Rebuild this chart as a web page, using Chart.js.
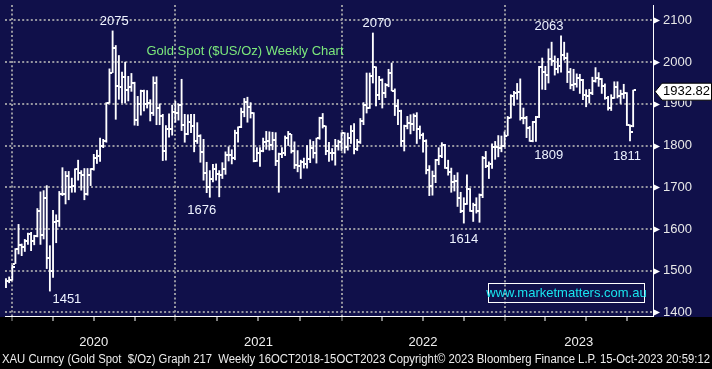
<!DOCTYPE html>
<html>
<head>
<meta charset="utf-8">
<script src="https://cdn.jsdelivr.net/npm/chart.js@4.4.0/dist/chart.umd.min.js"></script>
<style>
html,body{margin:0;padding:0;background:#000;}
#wrap{width:712px;height:369px;position:relative;}
canvas{display:block;}
</style>
</head>
<body>
<div id="wrap"><canvas id="c" width="712" height="369"></canvas></div>
<script>
// ---------- DATA (weekly XAU spot, weeks ending Fridays from 13-Dec-2019) ----------
const firstWeekEnding = Date.UTC(2019, 11, 13);

const opens = [
1464,1476,1478,1517,1552,1562,1557,1571,1589,1570,
1584,1643,1585,1674,1530,1499,1617,1620,1683,1683,
1728,1700,1702,1744,1735,1730,1685,1730,1743,1771,
1775,1799,1810,1902,1975,2035,1944,1940,1964,1934,
1940,1950,1862,1900,1930,1899,1902,1879,1951,1889,
1871,1788,1839,1840,1881,1878,1898,1850,1827,1856,
1848,1812,1823,1784,1734,1700,1719,1745,1732,1729,
1744,1777,1777,1769,1831,1844,1881,1905,1892,1877,
1764,1781,1787,1808,1812,1802,1814,1763,1780,1781,
1818,1827,1788,1754,1750,1761,1757,1768,1793,1783,
1818,1865,1846,1788,1783,1782,1798,1808,1829,1797,
1818,1835,1791,1808,1859,1898,1889,1966,1989,1921,
1958,1925,1946,1974,1932,1896,1883,1811,1846,1853,
1851,1871,1839,1826,1811,1742,1703,1727,1766,1775,
1802,1747,1737,1712,1716,1675,1644,1661,1695,1644,
1657,1644,1681,1771,1751,1755,1797,1797,1793,1798,
1824,1866,1920,1926,1928,1865,1865,1842,1811,1856,
1868,1989,1977,1969,2008,2004,1983,1990,2017,2011,
1977,1946,1948,1961,1958,1921,1919,1925,1955,1962,
1959,1943,1914,1889,1915,1940,1919,1924,1925,1849,
1846];

const highs = [
1481,1485,1513,1553,1611,1564,1575,1590,1592,1585,
1649,1689,1692,1704,1560,1645,1634,1690,1747,1738,
1738,1722,1744,1765,1740,1745,1745,1745,1779,1789,
1818,1815,1903,1984,2075,2040,2016,1976,2000,1966,
1973,1952,1918,1933,1933,1932,1910,1965,1965,1900,
1875,1848,1876,1897,1906,1900,1959,1875,1874,1875,
1875,1855,1826,1815,1760,1740,1755,1756,1740,1759,
1785,1797,1790,1837,1845,1890,1913,1916,1903,1879,
1795,1795,1818,1834,1833,1832,1831,1782,1795,1823,
1834,1827,1809,1788,1765,1770,1800,1814,1810,1818,
1868,1877,1847,1808,1793,1815,1813,1831,1831,1830,
1848,1853,1815,1865,1903,1974,1974,2070,1989,1966,
1960,1949,1983,1998,1936,1910,1885,1849,1870,1874,
1876,1879,1847,1830,1814,1752,1739,1767,1795,1807,
1803,1765,1746,1729,1735,1688,1675,1730,1697,1662,
1675,1684,1774,1786,1761,1804,1810,1824,1823,1833,
1870,1922,1930,1949,1960,1890,1870,1846,1858,1870,
1990,2010,1990,2032,2048,2015,2009,2063,2048,2022,
1985,1983,1972,1971,1959,1934,1935,1964,1987,1975,
1961,1948,1918,1922,1953,1953,1933,1947,1927,1850,
1933];

const lows = [
1459,1471,1477,1517,1540,1536,1546,1563,1548,1562,
1581,1563,1576,1505,1451,1484,1567,1606,1680,1660,
1670,1688,1688,1717,1693,1670,1681,1704,1741,1757,
1762,1795,1808,1902,1975,1863,1911,1902,1902,1907,
1930,1849,1848,1873,1883,1890,1859,1872,1850,1850,
1764,1765,1820,1825,1856,1861,1836,1808,1826,1831,
1785,1805,1760,1717,1687,1676,1713,1717,1677,1721,
1731,1763,1756,1766,1808,1843,1869,1856,1866,1761,
1762,1750,1785,1791,1789,1790,1752,1688,1771,1776,
1800,1782,1745,1737,1721,1746,1746,1759,1770,1758,
1815,1842,1778,1762,1765,1753,1789,1788,1782,1789,
1805,1780,1788,1805,1850,1878,1889,1950,1895,1910,
1890,1915,1941,1931,1872,1850,1798,1787,1840,1828,
1836,1805,1816,1784,1732,1680,1681,1711,1754,1771,
1745,1729,1688,1691,1654,1639,1614,1659,1642,1618,
1638,1616,1675,1747,1721,1745,1767,1773,1785,1797,
1824,1866,1896,1911,1861,1852,1819,1810,1809,1810,
1867,1935,1934,1950,1992,1969,1974,1976,2005,1951,
1936,1932,1940,1925,1910,1893,1902,1922,1952,1942,
1925,1911,1885,1884,1913,1914,1901,1913,1848,1811,
1845];

const closes = [
1476,1478,1510,1552,1562,1557,1571,1589,1570,1584,
1643,1585,1674,1530,1499,1617,1620,1683,1683,1728,
1700,1702,1744,1735,1730,1685,1730,1743,1771,1775,
1799,1810,1902,1975,2035,1944,1940,1964,1934,1940,
1950,1862,1900,1930,1899,1902,1879,1951,1889,1871,
1788,1839,1840,1881,1878,1898,1850,1827,1856,1848,
1812,1823,1784,1734,1700,1719,1745,1732,1729,1744,
1777,1777,1769,1831,1844,1881,1905,1892,1877,1764,
1781,1787,1808,1812,1802,1814,1763,1780,1781,1818,
1827,1788,1754,1750,1761,1757,1768,1793,1783,1818,
1865,1846,1788,1783,1782,1798,1808,1829,1797,1818,
1835,1791,1808,1859,1898,1889,1966,1989,1921,1958,
1925,1946,1974,1932,1896,1883,1811,1846,1853,1851,
1871,1839,1826,1811,1742,1703,1727,1766,1775,1802,
1747,1737,1712,1716,1675,1644,1661,1695,1644,1657,
1644,1681,1771,1751,1755,1797,1797,1793,1798,1824,
1866,1920,1926,1928,1865,1865,1842,1811,1856,1868,
1989,1977,1969,2008,2004,1983,1990,2017,2011,1977,
1946,1948,1961,1958,1921,1919,1925,1955,1962,1959,
1943,1914,1889,1915,1940,1919,1924,1925,1849,1833,
1932.82];

const yearLabels = ['2020', '2021', '2022', '2023'];
const priceTicks = [1400, 1500, 1600, 1700, 1800, 1900, 2000, 2100];
const lastPrice = 1932.82;
const chartTitle = 'Gold Spot ($US/Oz) Weekly Chart';
const sourceLine = 'XAU Curncy (Gold Spot  $/Oz) Graph 217  Weekly 16OCT2018-15OCT2023 Copyright\u00A9 2023 Bloomberg Finance L.P. 15-Oct-2023 20:59:12';
const watermark = 'www.marketmatters.com.au';
// marked extremes: week index + which end of the bar
const extremeIdx  = [34, 14, 65, 117, 146, 177, 168, 199];
const extremeSide = ['high', 'low', 'low', 'high', 'low', 'high', 'low', 'low'];

// ---------- derived structures ----------
const N = opens.length;
const weekEnding = opens.map((_, i) => new Date(firstWeekEnding + i * 7 * 864e5));
const hiLo = opens.map((_, i) => ({x: i, y: [lows[i], highs[i]]}));
const openPts = opens.map((v, i) => ({x: i, y: v}));
const closePts = closes.map((v, i) => ({x: i, y: v}));

const X_MIN = -0.316, X_MAX = 206.33;
const Y_MIN = 1391.3, Y_MAX = 2137.1;

// year separators sit one bar before the first weekly bar of each year
const yearStarts = yearLabels.map(y => weekEnding.findIndex(d => d.getUTCFullYear() === +y) - 1);
const yearEnds = yearStarts.map((s, k) => k + 1 < yearStarts.length ? yearStarts[k + 1] : s + 365.25 / 7);
const yearStartSet = new Set(yearStarts);
const quarterTicks = [];
yearStarts.forEach((s, k) => {
  for (let q = 0; q < 4; q++) {
    const v = s + q * (yearEnds[k] - s) / 4;
    if (v <= X_MAX) quarterTicks.push(v);
  }
});
const yearLabelAt = new Map();
yearStarts.forEach((s, k) => yearLabelAt.set((s + Math.min(yearEnds[k], X_MAX)) / 2, yearLabels[k]));
const yearAxisTicks = [...yearStarts, ...yearLabelAt.keys()].sort((a, b) => a - b);
const priceAxisTicks = [];
for (let v = priceTicks[0]; v <= priceTicks[priceTicks.length - 1]; v += 50) priceAxisTicks.push(v);

// ---------- styles ----------
const NAVY = '#10104a';
const GRID = '#9696a0';
const FONT = "'Liberation Sans', Arial, sans-serif";
const TRANSPARENT = 'rgba(0,0,0,0)';

function tickImage(side) {
  const c = document.createElement('canvas');
  c.width = 5; c.height = 2;
  const g = c.getContext('2d');
  g.fillStyle = '#ffffff';
  if (side === 'open') g.fillRect(0, 0, 2, 2); else g.fillRect(3, 0, 2, 2);
  return c;
}

const decor = {
  id: 'decor',
  beforeDraw(chart) {
    const {ctx, width, height, chartArea} = chart;
    ctx.save();
    ctx.fillStyle = '#000000';
    ctx.fillRect(0, 0, width, height);
    ctx.fillStyle = NAVY;
    ctx.fillRect(0, 0, width, chartArea.bottom + 1);
    ctx.restore();
  },
  afterDraw(chart, args, opts) {
    const {ctx, chartArea: ca} = chart;
    const xs = chart.scales.x, ys = chart.scales.y;
    ctx.save();
    // major price markers on the axis
    ctx.fillStyle = '#ffffff';
    priceTicks.forEach(v => {
      const py = Math.round(ys.getPixelForValue(v)) + 0.5;
      ctx.beginPath();
      ctx.moveTo(ca.right, py - 3.5);
      ctx.lineTo(ca.right + 7, py);
      ctx.lineTo(ca.right, py + 3.5);
      ctx.closePath();
      ctx.fill();
    });
    // title
    ctx.font = '13px ' + FONT;
    ctx.fillStyle = '#7ce87c';
    ctx.textAlign = 'left';
    ctx.textBaseline = 'middle';
    ctx.fillText(chartTitle, 146.5, 51.5);
    // extreme labels
    ctx.fillStyle = '#eef3ff';
    ctx.textAlign = 'center';
    extremeIdx.forEach((i, k) => {
      const val = extremeSide[k] === 'high' ? highs[i] : lows[i];
      const nx = opts.nudges[k][0], ny = opts.nudges[k][1];
      ctx.fillText(String(Math.round(val)), xs.getPixelForValue(i) + nx, ys.getPixelForValue(val) + ny);
    });
    // watermark box
    ctx.strokeStyle = '#ffffff';
    ctx.lineWidth = 1;
    ctx.strokeRect(488.5, 283.5, 156, 19);
    ctx.fillStyle = '#19e3ee';
    ctx.fillText(watermark, 566.5, 293.5);
    // last price tag
    const lp = ys.getPixelForValue(lastPrice) + 1.5;
    ctx.beginPath();
    ctx.moveTo(ca.right + 2, lp);
    ctx.lineTo(ca.right + 9, lp - 8.5);
    ctx.lineTo(711.5, lp - 8.5);
    ctx.lineTo(711.5, lp + 8.5);
    ctx.lineTo(ca.right + 9, lp + 8.5);
    ctx.closePath();
    ctx.fillStyle = '#ffffff';
    ctx.fill();
    ctx.strokeStyle = '#000000';
    ctx.stroke();
    ctx.fillStyle = '#000000';
    ctx.fillText(lastPrice.toFixed(2), 686.5, lp);
    // source line
    ctx.font = '12px ' + FONT;
    ctx.fillStyle = '#ececec';
    ctx.textAlign = 'left';
    ctx.fillText(sourceLine, 2, 359.5, 708);
    ctx.restore();
  }
};

new Chart(document.getElementById('c'), {
  type: 'bar',
  data: {
    datasets: [
      {type: 'bar', label: 'High-Low', data: hiLo, xAxisID: 'x', yAxisID: 'y',
       backgroundColor: '#ffffff', borderWidth: 0, barThickness: 1.2, grouped: false, order: 3},
      {type: 'scatter', label: 'Open', data: openPts, xAxisID: 'x', yAxisID: 'y',
       pointStyle: tickImage('open'), pointRadius: 2, order: 2},
      {type: 'scatter', label: 'Close', data: closePts, xAxisID: 'x', yAxisID: 'y',
       pointStyle: tickImage('close'), pointRadius: 2, order: 1}
    ]
  },
  options: {
    responsive: false,
    animation: false,
    events: [],
    layout: {padding: 0},
    plugins: {
      legend: {display: false},
      tooltip: {enabled: false},
      decor: {nudges: [[1.6, -9.5], [17, 8.5], [-8, 12.7], [4, -10], [0, 16], [-12, -9.5], [16, 14], [-3, 15]]}
    },
    scales: {
      x: {
        type: 'linear', position: 'bottom', min: X_MIN, max: X_MAX, offset: false, weight: 0,
        afterBuildTicks: s => { s.ticks = quarterTicks.map(v => ({value: v})); },
        afterFit: s => { s.height = 5; s.paddingLeft = 0; s.paddingRight = 0; },
        ticks: {display: false, autoSkip: false},
        grid: {
          offset: false, drawOnChartArea: true, lineWidth: 2, tickLength: 5, tickWidth: 1,
          color: c => (c.tick && yearStartSet.has(c.tick.value)) ? GRID : TRANSPARENT,
          tickColor: c => (c.tick && yearStartSet.has(c.tick.value)) ? '#9a9a9a' : '#ffffff'
        },
        border: {display: true, color: '#ffffff', width: 1, dash: [2, 2.3]}
      },
      xYear: {
        type: 'linear', position: 'bottom', min: X_MIN, max: X_MAX, offset: false, weight: 1,
        afterBuildTicks: s => { s.ticks = yearAxisTicks.map(v => ({value: v})); },
        afterFit: s => { s.height = 48; s.paddingLeft = 0; s.paddingRight = 0; },
        ticks: {
          autoSkip: false, maxRotation: 0, minRotation: 0, padding: -18,
          color: '#f0f0f0', font: {family: FONT, size: 13},
          callback: v => yearLabelAt.has(v) ? yearLabelAt.get(v) : null
        },
        grid: {
          offset: false, drawOnChartArea: false, tickLength: 32, lineWidth: 1, tickWidth: 1,
          tickColor: c => (c.tick && yearStartSet.has(c.tick.value)) ? '#9a9a9a' : TRANSPARENT
        },
        border: {display: false}
      },
      y: {
        type: 'linear', position: 'right', min: Y_MIN, max: Y_MAX,
        afterBuildTicks: s => { s.ticks = priceAxisTicks.map(v => ({value: v})); },
        afterFit: s => { s.width = 59; s.paddingTop = 0; s.paddingBottom = 0; },
        ticks: {
          autoSkip: false, padding: 5, color: '#e8e8e8', font: {family: FONT, size: 13},
          callback: v => (v % 100 === 0) ? String(v) : null
        },
        grid: {
          lineWidth: 2, tickLength: 5, tickWidth: 1,
          color: c => (c.tick && c.tick.value % 100 === 0) ? GRID : TRANSPARENT,
          tickColor: c => (c.tick && c.tick.value % 100 !== 0) ? '#ffffff' : TRANSPARENT
        },
        border: {display: true, color: '#ffffff', width: 1, dash: [2, 2.3]}
      }
    }
  },
  plugins: [decor]
});
</script>
</body>
</html>
